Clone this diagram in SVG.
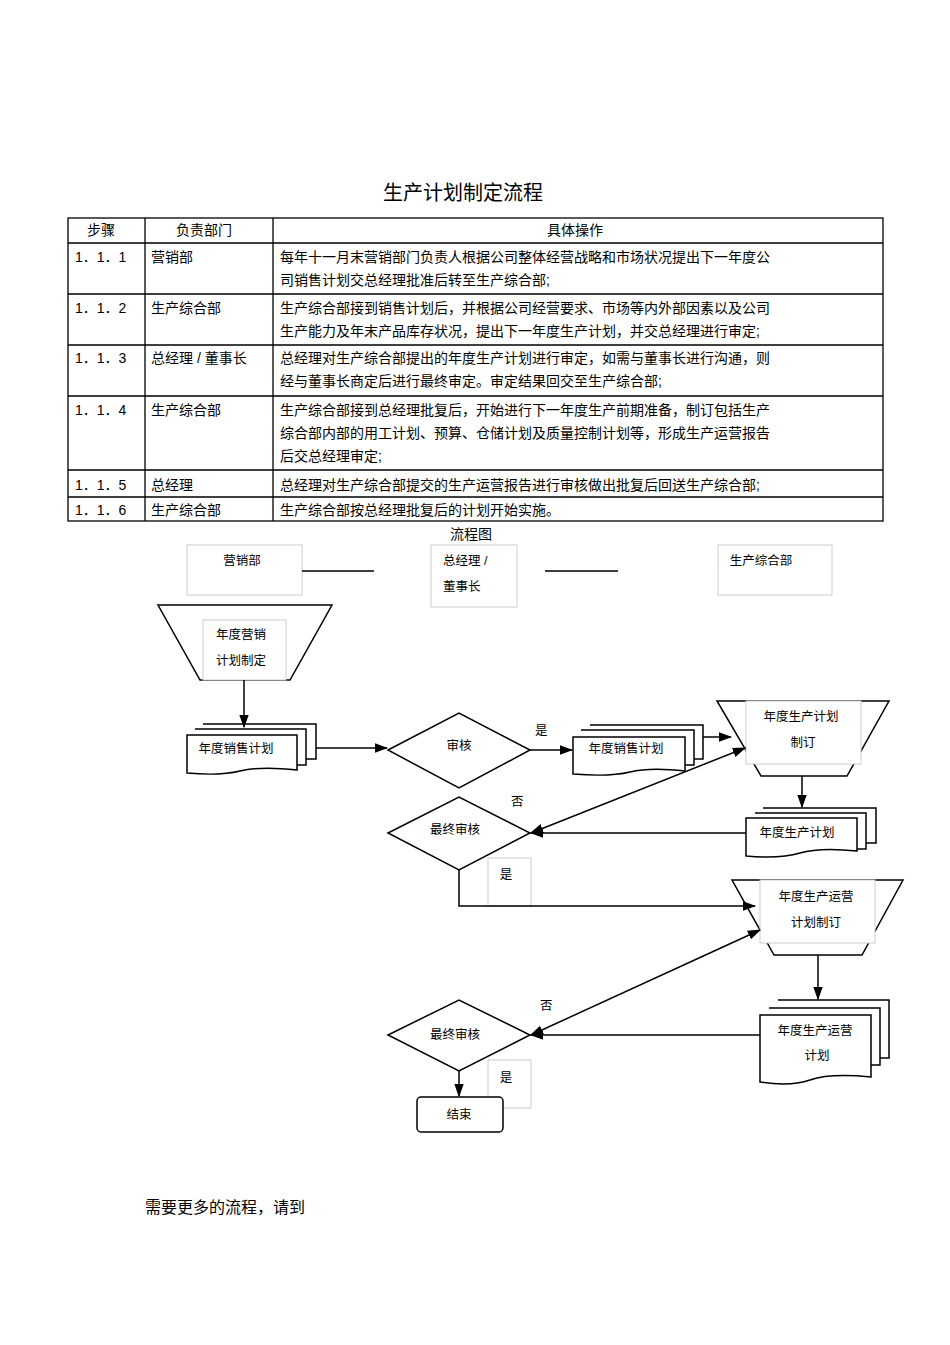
<svg xmlns="http://www.w3.org/2000/svg" width="950" height="1345" viewBox="0 0 950 1345">
<style>
text{font-family:"Liberation Sans","Noto Sans CJK SC",sans-serif;fill:#000}
.t{font-size:14px}
.s{font-size:12.5px}
.ln{fill:none;stroke:#000;stroke-width:1.3}
.sh{fill:#fff;stroke:#000;stroke-width:1.5}
.gb{fill:#fff;stroke:#ccc;stroke-width:1}
.cn{fill:none;stroke:#000;stroke-width:1.5}
</style>
<defs>
<marker id="a" viewBox="0 0 10 10" refX="9" refY="5" markerWidth="9" markerHeight="9" orient="auto-start-reverse"><path d="M0,1.5L10,5L0,8.5z" fill="#000"/></marker>
</defs>
<rect width="950" height="1345" fill="#fff"/>
<text x="463" y="200" font-size="20" text-anchor="middle">生产计划制定流程</text>
<g id="table">
<rect x="68" y="218" width="815" height="303" class="ln"/>
<path class="ln" d="M68,243H883M68,294H883M68,345H883M68,396H883M68,470H883M68,497H883M145,218V521M273,218V521"/>
<g class="t">
<text x="101" y="235" text-anchor="middle">步骤</text><text x="204" y="235" text-anchor="middle">负责部门</text><text x="575" y="235" text-anchor="middle">具体操作</text>
<text x="75" y="262">1．1．1</text><text x="151" y="262">营销部</text>
<text x="280" y="262">每年十一月末营销部门负责人根据公司整体经营战略和市场状况提出下一年度公</text><text x="280" y="285">司销售计划交总经理批准后转至生产综合部;</text>
<text x="75" y="313">1．1．2</text><text x="151" y="313">生产综合部</text>
<text x="280" y="313">生产综合部接到销售计划后，并根据公司经营要求、市场等内外部因素以及公司</text><text x="280" y="336">生产能力及年末产品库存状况，提出下一年度生产计划，并交总经理进行审定;</text>
<text x="75" y="363">1．1．3</text><text x="151" y="363">总经理 / 董事长</text>
<text x="280" y="363">总经理对生产综合部提出的年度生产计划进行审定，如需与董事长进行沟通，则</text><text x="280" y="386">经与董事长商定后进行最终审定。审定结果回交至生产综合部;</text>
<text x="75" y="415">1．1．4</text><text x="151" y="415">生产综合部</text>
<text x="280" y="415">生产综合部接到总经理批复后，开始进行下一年度生产前期准备，制订包括生产</text><text x="280" y="438">综合部内部的用工计划、预算、仓储计划及质量控制计划等，形成生产运营报告</text><text x="280" y="461">后交总经理审定;</text>
<text x="75" y="490">1．1．5</text><text x="151" y="490">总经理</text>
<text x="280" y="490">总经理对生产综合部提交的生产运营报告进行审核做出批复后回送生产综合部;</text>
<text x="75" y="515">1．1．6</text><text x="151" y="515">生产综合部</text>
<text x="280" y="515">生产综合部按总经理批复后的计划开始实施。</text>
</g>
</g>
<text x="471" y="539" class="t" text-anchor="middle">流程图</text>
<g id="lanes">
<rect x="187" y="545" width="115" height="50" class="gb"/><text x="242" y="565" class="s" text-anchor="middle">营销部</text>
<rect x="431" y="545" width="86" height="62" class="gb"/><text x="443" y="565" class="s">总经理 /</text><text x="443" y="591" class="s">董事长</text>
<rect x="718" y="545" width="114" height="50" class="gb"/><text x="761" y="565" class="s" text-anchor="middle">生产综合部</text>
<path class="ln" d="M302,571H374M545,571H618"/>
</g>
<g id="n1"><path class="sh" d="M158,605H332L290,680H200z"/><rect x="203" y="620" width="83" height="60" class="gb"/><text x="241" y="639" class="s" text-anchor="middle">年度营销</text><text x="241" y="665" class="s" text-anchor="middle">计划制定</text></g>
<g id="n2"><path class="sh" d="M203,724H316V759H303"/><path class="sh" d="M195,729H306V765H297"/><path class="sh" d="M187,735H297V770Q260,766 240,771T187,773z"/><text x="236" y="753" class="s" text-anchor="middle">年度销售计划</text></g>
<g id="n3"><path class="sh" d="M388,750L459,713L530,750L459,788z"/><text x="459" y="750" class="s" text-anchor="middle">审核</text></g>
<g id="n4"><path class="sh" d="M590,725H703V759H685"/><path class="sh" d="M581,730H694V765H685"/><path class="sh" d="M573,737H685V771Q650,767 630,772T573,774z"/><text x="626" y="753" class="s" text-anchor="middle">年度销售计划</text></g>
<g id="n5"><path class="sh" d="M717,701H889L847,776H761z"/><rect x="746" y="701" width="115" height="63" class="gb"/><text x="801" y="721" class="s" text-anchor="middle">年度生产计划</text><text x="803" y="747" class="s" text-anchor="middle">制订</text></g>
<g id="n6"><path class="sh" d="M763,808H876V843H866"/><path class="sh" d="M755,813H866V849H857"/><path class="sh" d="M746,818H857V851Q820,847 800,853T746,856z"/><text x="797" y="837" class="s" text-anchor="middle">年度生产计划</text></g>
<g id="n7"><path class="sh" d="M388,833L459,797L530,833L459,870z"/><text x="455" y="834" class="s" text-anchor="middle">最终审核</text></g>
<g id="y1"><rect x="488" y="858" width="43" height="48" class="gb"/><text x="506" y="879" class="s" text-anchor="middle">是</text></g>
<g id="n8"><path class="sh" d="M732,880H903L862,955H774z"/><rect x="760" y="880" width="115" height="63" class="gb"/><text x="816" y="901" class="s" text-anchor="middle">年度生产运营</text><text x="816" y="927" class="s" text-anchor="middle">计划制订</text></g>
<g id="n9"><path class="sh" d="M778,1000H889V1058H880"/><path class="sh" d="M769,1008H880V1065H871"/><path class="sh" d="M760,1015H871V1077Q830,1073 810,1080T760,1082z"/><text x="815" y="1035" class="s" text-anchor="middle">年度生产运营</text><text x="817" y="1060" class="s" text-anchor="middle">计划</text></g>
<g id="n10"><path class="sh" d="M388,1035L459,1000L530,1035L459,1071z"/><text x="455" y="1039" class="s" text-anchor="middle">最终审核</text></g>
<g id="y2"><rect x="488" y="1060" width="43" height="48" class="gb"/><text x="506" y="1082" class="s" text-anchor="middle">是</text></g>
<g id="n11"><rect x="417" y="1097" width="86" height="35" rx="4" class="sh"/><text x="459" y="1119" class="s" text-anchor="middle">结束</text></g>
<g id="connectors">
<path class="cn" marker-end="url(#a)" d="M244,680V727"/>
<path class="cn" marker-end="url(#a)" d="M316,748H387"/>
<path class="cn" marker-end="url(#a)" d="M530,750H572"/>
<path class="cn" marker-end="url(#a)" d="M703,737H731"/>
<path class="cn" marker-end="url(#a)" d="M802,776V807"/>
<path class="cn" marker-end="url(#a)" d="M746,833H531"/>
<path class="cn" marker-start="url(#a)" marker-end="url(#a)" d="M531,833L745,748"/>
<path class="cn" marker-end="url(#a)" d="M459,870V906H755"/>
<path class="cn" marker-end="url(#a)" d="M818,955V999"/>
<path class="cn" marker-end="url(#a)" d="M760,1035H531"/>
<path class="cn" marker-start="url(#a)" marker-end="url(#a)" d="M531,1035L760,930"/>
<path class="cn" marker-end="url(#a)" d="M459,1071V1096"/>
</g>
<g class="s"><text x="535" y="735">是</text><text x="511" y="806">否</text><text x="540" y="1010">否</text></g>
<text x="145" y="1213" font-size="16">需要更多的流程，请到</text>
</svg>
